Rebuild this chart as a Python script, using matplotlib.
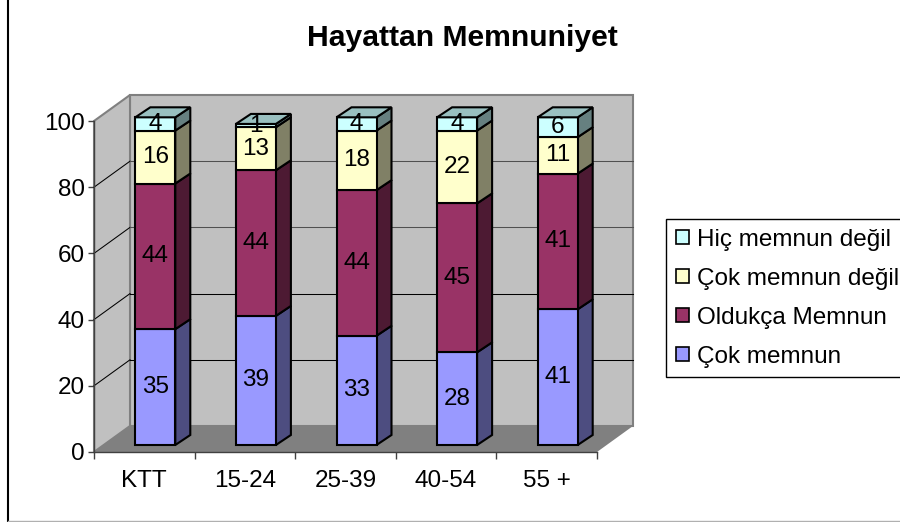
import matplotlib
matplotlib.use('Agg')
import matplotlib.pyplot as plt
from matplotlib.patches import Patch, Polygon
import numpy as np

plt.rcParams['font.family'] = ['Liberation Sans', 'DejaVu Sans']

#data
categories = ['KTT', '15-24', '25-39', '40-54', '55 +']
cok_memnun = [35, 39, 33, 28, 41]
oldukca_memnun = [44, 44, 44, 45, 41]
cok_memnun_degil = [16, 13, 18, 22, 11]
hic_memnun_degil = [4, 1, 4, 4, 6]
series_names = ['Çok memnun', 'Oldukça Memnun', 'Çok memnun değil', 'Hiç memnun değil']
y_ticks = [0, 20, 40, 60, 80, 100]

#colours: front, side, top
front = ['#9999FF', '#993366', '#FFFFCC', '#CCFFFF']
side = ['#4D4D80', '#4D1A33', '#808066', '#668080']
top = ['#7373BF', '#732650', '#BFBF99', '#99C0C0']

W, H = 900, 522
fig = plt.figure(figsize=(W/100, H/100), dpi=100)
ax = fig.add_axes([94/W, (H-452)/H, 503/W, 331/H])
ax.set_xlim(0, 5)
ax.set_ylim(0, 100)
ax.patch.set_visible(False)

# pixels per data unit
px = 503/5
py = 331/100
# depth of the box and of the bars
box_dx, box_dy = 36/px, 26/py
bar_off_x, bar_off_y = 11/px, 7/py
bar_dx, bar_dy = 15/px, 10/py
bar_w = 40/px

def poly(pts, fc, ec='none', lw=0.0, z=1):
    ax.add_patch(Polygon(pts, closed=True, facecolor=fc, edgecolor=ec, linewidth=lw,
                         zorder=z, clip_on=False, joinstyle='miter'))

############# walls and floor #############
poly([(box_dx, box_dy), (5+box_dx, box_dy), (5+box_dx, 100+box_dy), (box_dx, 100+box_dy)],
     '#C0C0C0', '#808080', 1.5, 1)
poly([(0, 0), (box_dx, box_dy), (box_dx, 100+box_dy), (0, 100)], '#C0C0C0', '#808080', 1.5, 1)
poly([(0, 0), (5, 0), (5+box_dx, box_dy), (box_dx, box_dy)], '#808080', z=1.5)

for v in y_ticks[1:-1]:
    col = '#000000' if v < 60 else '#505050'
    ax.plot([0, box_dx], [v, v+box_dy], color='black', lw=0.75, zorder=2, clip_on=False)
    ax.plot([box_dx, 5+box_dx], [v+box_dy, v+box_dy], color=col, lw=0.75, zorder=2, clip_on=False)

############# stacked bars #############
values = np.array([cok_memnun, oldukca_memnun, cok_memnun_degil, hic_memnun_degil], dtype=float)
bottoms = np.vstack([np.zeros(5), np.cumsum(values, axis=0)[:-1]])
edge = 'black'
elw = 1.5
for i in range(len(categories)):
    x0 = i + 0.5 + bar_off_x - bar_w/2
    x1 = x0 + bar_w
    for s in range(4):
        b = bottoms[s, i] + bar_off_y
        t = b + values[s, i]
        poly([(x1, b), (x1+bar_dx, b+bar_dy), (x1+bar_dx, t+bar_dy), (x1, t)],
             side[s], edge, elw, 3)
        poly([(x0, b), (x1, b), (x1, t), (x0, t)], front[s], edge, elw, 4)
        if s == 3:
            poly([(x0, t), (x1, t), (x1+bar_dx, t+bar_dy), (x0+bar_dx, t+bar_dy)],
                 top[s], edge, elw, 4)
        ax.text((x0+x1)/2, (b+t)/2, '%d' % values[s, i], ha='center', va='center',
                fontsize=17.5, color='black', zorder=6, clip_on=False)

############# axes #############
for name in ['top', 'right']:
    ax.spines[name].set_visible(False)
for name in ['left', 'bottom']:
    ax.spines[name].set_color('#404040')
    ax.spines[name].set_linewidth(1.0)
    ax.spines[name].set_zorder(7)
ax.set_yticks(y_ticks)
ax.set_xticks(np.arange(6))
ax.set_xticklabels([])
ax.set_xticks(np.arange(5)+0.5, minor=True)
ax.set_xticklabels(categories, minor=True, fontsize=17.5)
ax.tick_params(axis='y', labelsize=17.5, length=4, width=1, color='#404040', pad=2.5)
ax.tick_params(axis='x', which='major', length=5, width=1, color='#404040')
ax.tick_params(axis='x', which='minor', length=0, pad=13)

fig.text(462/W, 1-38/H, 'Hayattan Memnuniyet', ha='center', va='center',
         fontsize=21.7, fontweight='bold')

############# legend #############
handles = [Patch(facecolor=front[s], edgecolor='black', linewidth=1.2, label=series_names[s])
           for s in range(3, -1, -1)]
leg = fig.legend(handles=handles, loc='upper left', bbox_to_anchor=(666/W, 1-219/H),
                 bbox_transform=fig.transFigure, fontsize=17.5, frameon=True, fancybox=False,
                 framealpha=1, edgecolor='black', handlelength=0.55, handleheight=0.55,
                 handletextpad=0.33, labelspacing=0.7, borderpad=0.4, borderaxespad=0)
leg.get_frame().set_linewidth(1.0)

# outer frame
fig.add_artist(plt.Line2D([7.5/W, 7.5/W], [1-521/H, 1], color='black', lw=1.5))
fig.add_artist(plt.Line2D([8/W, 1], [1-521/H, 1-521/H], color='#B0B0B0', lw=1.0))

fig.savefig('out.png', dpi=100)
